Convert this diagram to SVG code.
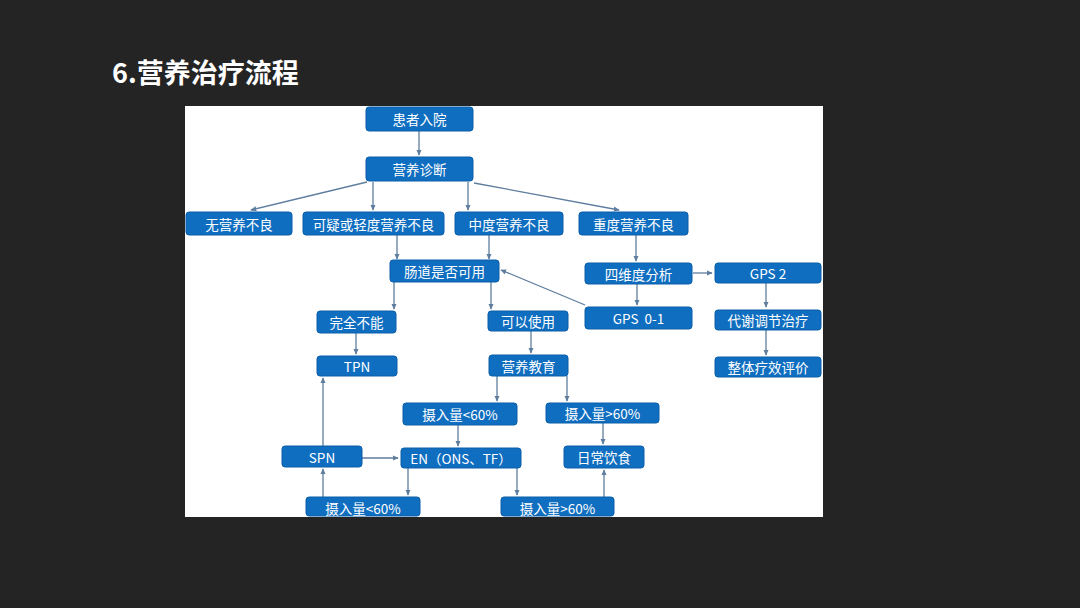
<svg xmlns="http://www.w3.org/2000/svg" width="1080" height="608" viewBox="0 0 1080 608">
<style>
.bx{fill:#0f6ebf;stroke:#0a5fa8;stroke-width:1}
.t{fill:#ffffff;font-family:"Noto Sans CJK SC","Noto Sans",sans-serif;font-size:13.5px;text-anchor:middle;dominant-baseline:central}
.c{stroke:#5f7d9e;stroke-width:1.3;fill:none;marker-end:url(#ah)}
</style>
<defs>
<marker id="ah" viewBox="0 0 8 8" refX="7" refY="4" markerWidth="6" markerHeight="6" markerUnits="userSpaceOnUse" orient="auto">
<path d="M0,0.5 L8,4 L0,7.5 z" fill="#5f7d9e"/>
</marker>
</defs>
<rect x="0" y="0" width="1080" height="608" fill="#242424"/>
<text x="112" y="83" fill="#ffffff" font-family="Noto Sans CJK SC, sans-serif" font-size="27" font-weight="bold">6.营养治疗流程</text>
<rect x="185" y="106" width="638" height="411" fill="#ffffff"/>
<g id="connectors">
<line class="c" x1="419" y1="131" x2="419" y2="155"/>
<line class="c" x1="367" y1="182" x2="251" y2="210"/>
<line class="c" x1="373" y1="182" x2="373" y2="210"/>
<line class="c" x1="468" y1="182" x2="468" y2="210"/>
<line class="c" x1="474" y1="183" x2="619" y2="210"/>
<line class="c" x1="397" y1="235" x2="397" y2="259"/>
<line class="c" x1="489" y1="235" x2="489" y2="259"/>
<line class="c" x1="636" y1="235" x2="636" y2="261"/>
<line class="c" x1="394" y1="282" x2="394" y2="309"/>
<line class="c" x1="491" y1="282" x2="491" y2="309"/>
<line class="c" x1="585" y1="305" x2="501" y2="270"/>
<line class="c" x1="637" y1="284" x2="637" y2="305"/>
<line class="c" x1="693" y1="273" x2="712" y2="273"/>
<line class="c" x1="766" y1="283" x2="766" y2="307"/>
<line class="c" x1="766" y1="330" x2="766" y2="355"/>
<line class="c" x1="356" y1="333" x2="356" y2="354"/>
<line class="c" x1="531" y1="331" x2="531" y2="353"/>
<line class="c" x1="497" y1="376" x2="497" y2="401"/>
<line class="c" x1="567" y1="376" x2="567" y2="401"/>
<line class="c" x1="458" y1="425" x2="458" y2="446"/>
<line class="c" x1="603" y1="423" x2="603" y2="444"/>
<line class="c" x1="362" y1="458" x2="398" y2="458"/>
<line class="c" x1="323" y1="446" x2="323" y2="378"/>
<line class="c" x1="323" y1="497" x2="323" y2="469"/>
<line class="c" x1="408" y1="468" x2="408" y2="495"/>
<line class="c" x1="517" y1="468" x2="517" y2="495"/>
<line class="c" x1="604" y1="497" x2="604" y2="470"/>
</g>
<g id="n1"><rect class="bx" x="366" y="107" width="107" height="24" rx="3"/><text class="t" x="419.5" y="119">患者入院</text></g>
<g id="n2"><rect class="bx" x="366" y="157" width="107" height="24" rx="3"/><text class="t" x="419.5" y="169">营养诊断</text></g>
<g id="n3"><rect class="bx" x="186" y="212" width="106" height="23" rx="3"/><text class="t" x="239" y="223.5">无营养不良</text></g>
<g id="n4"><rect class="bx" x="303" y="212" width="141" height="23" rx="3"/><text class="t" x="373.5" y="223.5">可疑或轻度营养不良</text></g>
<g id="n5"><rect class="bx" x="455" y="212" width="108" height="23" rx="3"/><text class="t" x="509" y="223.5">中度营养不良</text></g>
<g id="n6"><rect class="bx" x="579" y="212" width="109" height="23" rx="3"/><text class="t" x="633.5" y="223.5">重度营养不良</text></g>
<g id="n7"><rect class="bx" x="390" y="260" width="109" height="22" rx="3"/><text class="t" x="444.5" y="271">肠道是否可用</text></g>
<g id="n8"><rect class="bx" x="585" y="263" width="107" height="21" rx="3"/><text class="t" x="638.5" y="273.5">四维度分析</text></g>
<g id="n9"><rect class="bx" x="715" y="263" width="106" height="20" rx="3"/><text class="t" x="768" y="273">GPS 2</text></g>
<g id="n10"><rect class="bx" x="317" y="311" width="79" height="22" rx="3"/><text class="t" x="356.5" y="322">完全不能</text></g>
<g id="n11"><rect class="bx" x="488" y="311" width="80" height="20" rx="3"/><text class="t" x="528" y="321">可以使用</text></g>
<g id="n12"><rect class="bx" x="585" y="307" width="107" height="22" rx="3"/><text class="t" x="638.5" y="318">GPS&#160;&#160;0-1</text></g>
<g id="n13"><rect class="bx" x="715" y="310" width="106" height="20" rx="3"/><text class="t" x="768" y="320">代谢调节治疗</text></g>
<g id="n14"><rect class="bx" x="317" y="356" width="80" height="20" rx="3"/><text class="t" x="357" y="366">TPN</text></g>
<g id="n15"><rect class="bx" x="489" y="355" width="79" height="21" rx="3"/><text class="t" x="528.5" y="365.5">营养教育</text></g>
<g id="n16"><rect class="bx" x="715" y="357" width="106" height="20" rx="3"/><text class="t" x="768" y="367">整体疗效评价</text></g>
<g id="n17"><rect class="bx" x="403" y="403" width="114" height="22" rx="3"/><text class="t" x="460" y="414">摄入量&lt;60%</text></g>
<g id="n18"><rect class="bx" x="546" y="403" width="113" height="20" rx="3"/><text class="t" x="602.5" y="413">摄入量&gt;60%</text></g>
<g id="n19"><rect class="bx" x="282" y="446" width="80" height="21" rx="3"/><text class="t" x="322" y="456.5">SPN</text></g>
<g id="n20"><rect class="bx" x="401" y="448" width="120" height="20" rx="3"/><text class="t" x="461" y="458">EN（ONS、TF）</text></g>
<g id="n21"><rect class="bx" x="564" y="446" width="80" height="22" rx="3"/><text class="t" x="604" y="457">日常饮食</text></g>
<g id="n22"><rect class="bx" x="306" y="497" width="114" height="19" rx="3"/><text class="t" x="363" y="507.5">摄入量&lt;60%</text></g>
<g id="n23"><rect class="bx" x="501" y="497" width="113" height="19" rx="3"/><text class="t" x="557.5" y="507.5">摄入量&gt;60%</text></g>
</svg>
